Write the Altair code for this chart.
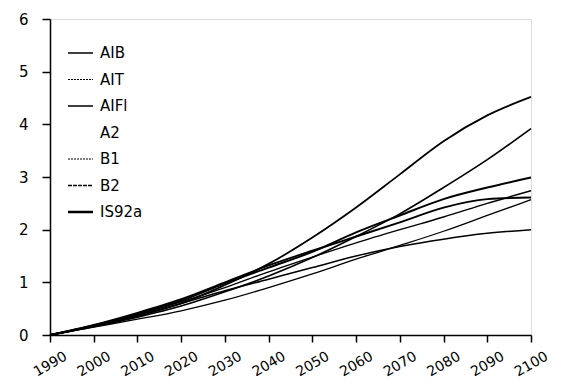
import altair as alt
import pandas as pd

years = [1990, 2000, 2010, 2020, 2030, 2040, 2050, 2060, 2070, 2080, 2090, 2100]
A1B = [0, 0.18, 0.40, 0.65, 0.98, 1.28, 1.58, 1.95, 2.27, 2.58, 2.80, 2.99]
A1T = [0, 0.19, 0.42, 0.68, 1.00, 1.32, 1.60, 1.87, 2.14, 2.42, 2.58, 2.61]
A1FI = [0, 0.17, 0.36, 0.60, 0.95, 1.35, 1.85, 2.42, 3.05, 3.68, 4.17, 4.52]
A2 = [0, 0.16, 0.34, 0.55, 0.82, 1.12, 1.47, 1.87, 2.30, 2.80, 3.33, 3.92]
B1 = [0, 0.17, 0.38, 0.60, 0.84, 1.06, 1.28, 1.50, 1.68, 1.82, 1.93, 2.00]
B2 = [0, 0.18, 0.40, 0.63, 0.90, 1.20, 1.48, 1.75, 2.00, 2.24, 2.50, 2.74]
IS92a = [0, 0.15, 0.30, 0.46, 0.66, 0.90, 1.16, 1.44, 1.70, 1.97, 2.27, 2.57]

series_names = ["A1B", "A1T", "A1FI", "A2", "B1", "B2", "IS92a"]
legend_labels = ["AIB", "AIT", "AIFl", "A2", "B1", "B2", "IS92a"]
series_values = [A1B, A1T, A1FI, A2, B1, B2, IS92a]

rows = []
for name, vals in zip(series_names, series_values):
    for yr, v in zip(years, vals):
        rows.append({"series": name, "year": yr, "value": v})
df = pd.DataFrame(rows)

FONT = "DejaVu Sans"
line_widths = [2.0, 1.3, 2.5, 1.3, 2.0, 2.0, 2.6]

lines = alt.Chart(df).mark_line(interpolate="monotone", color="black").encode(
    x=alt.X("year:Q", scale=alt.Scale(domain=[1990, 2100], nice=False),
            axis=alt.Axis(values=years, format="d", title=None, labelAngle=330,
                          labelAlign="center", labelBaseline="middle",
                          labelPadding=22, tickSize=7, grid=False,
                          labelFont=FONT, labelFontSize=14, labelColor="black",
                          domainColor="black", tickColor="black",
                          domainWidth=1.5, tickWidth=1.5)),
    y=alt.Y("value:Q", scale=alt.Scale(domain=[0, 6], nice=False),
            axis=alt.Axis(values=[0, 1, 2, 3, 4, 5, 6], title=None, tickSize=8,
                          labelPadding=14, grid=False, labelFont=FONT,
                          labelFontSize=15, labelColor="black",
                          domainColor="black", tickColor="black",
                          domainWidth=1.5, tickWidth=1.5)),
    detail="series:N",
    strokeWidth=alt.StrokeWidth("series:N", scale=alt.Scale(domain=series_names, range=line_widths), legend=None),
)

# manual legend
legend_y = [34, 60.5, 87, 113.5, 140, 166.5, 193]
legend_w = [1.6, 1.0, 1.4, 0, 1.0, 1.6, 2.6]
legend_dash = [[1, 0], [2, 1], [1, 0], [1, 0], [2, 1], [4, 1], [1, 0]]
layers = [lines]
for lab, py, w, dash in zip(legend_labels, legend_y, legend_w, legend_dash):
    ldf = pd.DataFrame({"label": [lab]})
    if w > 0:
        layers.append(alt.Chart(ldf).mark_rule(color="black", strokeWidth=w, strokeDash=dash).encode(
            x=alt.value(18), x2=alt.value(43), y=alt.value(py)))
    layers.append(alt.Chart(ldf).mark_text(align="left", baseline="middle", font=FONT,
                                           fontSize=15, color="black").encode(
        x=alt.value(50), y=alt.value(py), text="label:N"))

chart = alt.layer(*layers).properties(
    width=481, height=316,
    autosize=alt.AutoSizeParams(type="none"),
    padding={"left": 42, "top": 11, "right": 25, "bottom": 50},
).configure_view(stroke=None).configure(background="white")

chart.save("out.html", embed_options={"renderer": "svg", "actions": False})
